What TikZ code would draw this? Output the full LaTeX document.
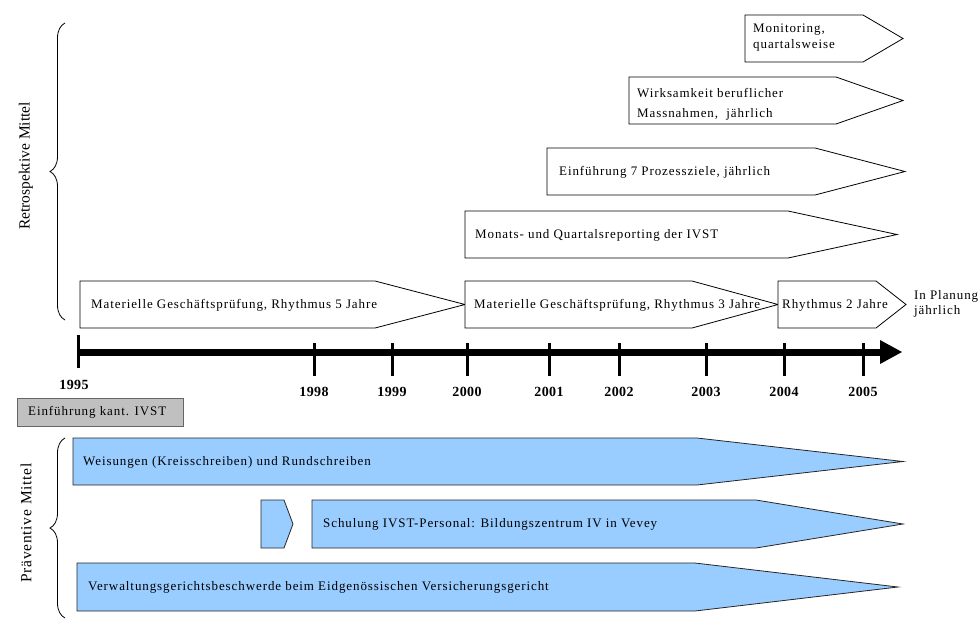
\documentclass[tikz,border=0pt]{standalone}
\usepackage{fontspec}
\setmainfont{Liberation Serif}[LetterSpace=7]
\usetikzlibrary{decorations.pathreplacing}
\definecolor{lblue}{RGB}{153,204,255}
\definecolor{lgray}{RGB}{192,192,192}
\newcommand\pentagon[6]{\draw[#1] (#2,#3) -- (#5,#3) -- (#6,{(#3+#4)/2}) -- (#5,#4) -- (#2,#4) -- cycle;}
\begin{document}
\begin{tikzpicture}[x=1pt,y=-1pt,
  txt/.style={font=\fontsize{13}{15}\selectfont, inner sep=0pt, anchor=west, align=left},
  wbox/.style={draw=black, line width=0.8pt, fill=white, line join=miter},
  bbox/.style={draw=black!85, line width=0.8pt, fill=lblue, line join=miter},
  gbox/.style={draw=black!60, line width=0.8pt, fill=lgray},
  yr/.style={font=\fontsize{14}{15}\selectfont\bfseries\addfontfeature{LetterSpace=3}, inner sep=0pt},
  tickline/.style={line width=3pt},
  bracedeco/.style={decorate, decoration={brace, amplitude=15pt}, line width=0.8pt},
  side/.style={rotate=90, inner sep=0pt}
]
\useasboundingbox (0,0) rectangle (979,625);

% ---- retrospective boxes ----
\pentagon{wbox}{745}{15}{62}{863}{903}
\node[txt, font=\fontsize{13}{16}\selectfont] (mon) at (753,38) {Monitoring,\\quartalsweise};
\pentagon{wbox}{629}{77}{124}{836}{903}
\node[txt, font=\fontsize{13}{20}\selectfont] (wirk) at (637,104) {Wirksamkeit beruflicher\\Massnahmen, \ jährlich};
\pentagon{wbox}{547}{148}{195}{815}{905}
\node[txt] (einf) at (559,172) {Einführung 7 Prozessziele, jährlich};
\pentagon{wbox}{465}{211}{258}{788}{897}
\node[txt] (monats) at (475,235) {Monats- und Quartalsreporting der IVST};
\pentagon{wbox}{80}{281}{328}{375}{465}
\node[txt] (mat5) at (91,305) {Materielle Geschäftsprüfung, Rhythmus 5 Jahre};
\pentagon{wbox}{465}{281}{328}{692}{778}
\node[txt] (mat3) at (474,305) {Materielle Geschäftsprüfung, Rhythmus 3 Jahre};
\pentagon{wbox}{778}{281}{328}{876}{906}
\node[txt] (rh2) at (782,305) {Rhythmus 2 Jahre};
\node[txt] (plan) at (914,304) {In Planung\\jährlich};

% ---- braces and side labels ----
\draw[bracedeco] (65,320) -- (65,23);
\node[side, font=\fontsize{15.5}{18}\selectfont\addfontfeature{LetterSpace=0}] (retro) at (26,166) {Retrospektive Mittel};
\draw[bracedeco] (65,618) -- (65,438);
\node[side, font=\fontsize{15.5}{18}\selectfont\addfontfeature{LetterSpace=5}] (praev) at (26,523) {Präventive Mittel};

% ---- timeline ----
\coordinate (tstart) at (78,352);
\coordinate (tend) at (882,352);
\draw[line width=7pt] (tstart) -- (tend);
\fill (880,340) -- (902,352) -- (880,364) -- cycle;
\draw[tickline] (78,335) -- (78,368);
\node[yr] (y1995) at (74,385) {1995};
\foreach \yy/\xx in {1998/314,1999/392,2000/467,2001/549,2002/619,2003/706,2004/784,2005/863}{
  \draw[tickline] (\xx,343) -- (\xx,376);
  \node[yr] (y\yy) at (\xx,392) {\yy};
}

% ---- gray box ----
\draw[gbox] (17,398) rectangle (183,426);
\node[txt] (kant) at (28,412) {Einführung kant. IVST};

% ---- preventive arrows ----
\pentagon{bbox}{73}{438}{485}{697}{903}
\node[txt] (weis) at (83,462) {Weisungen (Kreisschreiben) und Rundschreiben};
\pentagon{bbox}{261}{500}{548}{284}{293}
\pentagon{bbox}{312}{500}{548}{756}{903}
\node[txt] (schul) at (323,524) {Schulung IVST-Personal: Bildungszentrum IV in Vevey};
\pentagon{bbox}{77}{563}{611}{695}{898}
\node[txt] (verw) at (88,587) {Verwaltungsgerichtsbeschwerde beim Eidgenössischen Versicherungsgericht};
\end{tikzpicture}
\end{document}
